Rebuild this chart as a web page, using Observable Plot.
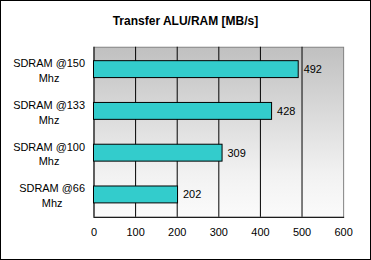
<!DOCTYPE html>
<html><head><meta charset="utf-8">
<script src="https://cdn.jsdelivr.net/npm/d3@7"></script>
<script src="https://cdn.jsdelivr.net/npm/@observablehq/plot@0.6"></script>
<style>
body{margin:0;background:#fff;}
#wrap{position:relative;width:371px;height:260px;box-sizing:border-box;border:1px solid #000;overflow:hidden;background:#fff;}
#title{position:absolute;left:-1px;top:13px;width:371px;text-align:center;font:bold 12px "Liberation Sans",Arial,sans-serif;color:#000;z-index:2;}
#wrap svg{position:absolute;left:-1px;top:-1px;}
</style></head><body>
<div id="wrap"><div id="title">Transfer ALU/RAM [MB/s]</div></div>
<script>
const categories = ["SDRAM @150\nMhz", "SDRAM @133\nMhz", "SDRAM @100\nMhz", "SDRAM @66\nMhz"];
const values = [492, 428, 309, 202];
const xTicks = [0, 100, 200, 300, 400, 500, 600];
const gridTicks = [100, 200, 300, 400, 500];

const data = categories.map((c, i) => ({cat: c, value: values[i]}));

const chart = Plot.plot({
  width: 371, height: 260,
  marginTop: 47, marginBottom: 42, marginLeft: 94, marginRight: 26,
  style: {fontFamily: '"Liberation Sans", Arial, sans-serif', fontSize: "11px", background: "transparent", color: "#000", overflow: "visible"},
  x: {domain: [0, 600], label: null},
  y: {domain: categories, paddingInner: 0.6, paddingOuter: 0.3, label: null},
  marks: [
    Plot.frame({fill: "url(#bgGrad)", stroke: "#808080"}),
    Plot.ruleX(gridTicks, {stroke: "#000"}),
    Plot.frame({anchor: "bottom", stroke: "#000"}),
    Plot.ruleX([0], {stroke: "#000"}),
    Plot.barX(data, {y: "cat", x: "value", fill: "#33CCCC", stroke: "#000", strokeWidth: 1}),
    Plot.text(data, {y: "cat", x: "value", text: d => String(d.value), textAnchor: "start", dx: 5, fill: "#000"}),
    Plot.axisX({ticks: xTicks, tickSize: 0, tickPadding: 11, label: null}),
    Plot.axisY({tickSize: 0, tickPadding: 9, lineHeight: 1.35, label: null})
  ]
});

document.getElementById("wrap").appendChild(chart);

// gradient background for plot area
const ns = "http://www.w3.org/2000/svg";
const defs = document.createElementNS(ns, "defs");
const grad = document.createElementNS(ns, "linearGradient");
grad.setAttribute("id", "bgGrad");
grad.setAttribute("x1", "0"); grad.setAttribute("y1", "0");
grad.setAttribute("x2", "0"); grad.setAttribute("y2", "1");
[["0%", "#c0c0c0"], ["75%", "#f2f2f2"], ["100%", "#fbfbfb"]].forEach(([o, c]) => {
  const s = document.createElementNS(ns, "stop");
  s.setAttribute("offset", o); s.setAttribute("stop-color", c);
  grad.appendChild(s);
});
defs.appendChild(grad);
chart.insertBefore(defs, chart.firstChild);

// center the lines of each category label, block right-aligned
chart.querySelectorAll('[aria-label="y-axis tick label"] text').forEach(t => {
  const w = t.getBBox().width;
  t.setAttribute("text-anchor", "middle");
  const spans = t.querySelectorAll("tspan");
  if (spans.length) spans.forEach(s => s.setAttribute("x", -w / 2));
  else t.setAttribute("x", -w / 2);
});
</script>
</body></html>
